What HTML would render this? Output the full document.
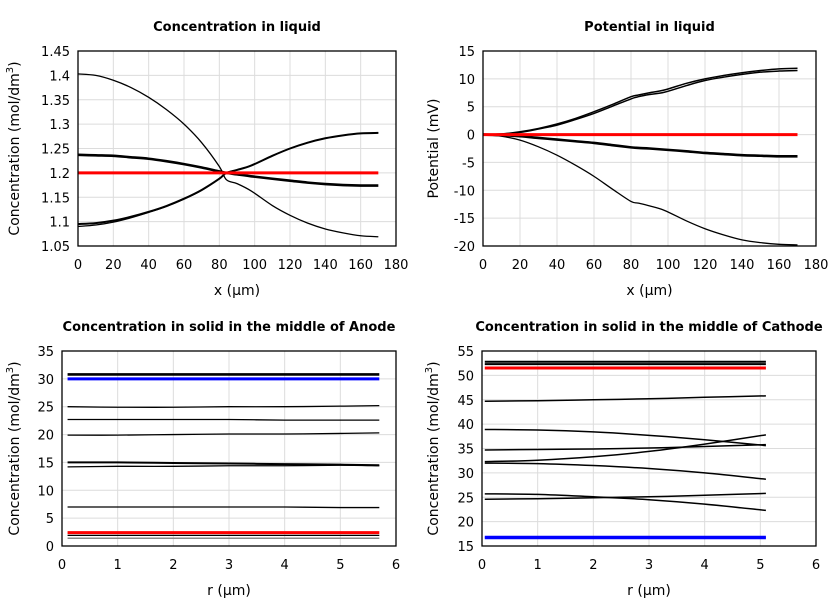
<!DOCTYPE html>
<html><head><meta charset="utf-8"><style>
body{margin:0;background:#fff;}
svg{display:block;font-family:"DejaVu Sans","Liberation Sans",sans-serif;}
</style></head><body>
<svg id="c" width="840" height="600"></svg>
<script>
// ---- data ----
const xLiquid=[0,10,20,30,40,50,60,70,80,84,90,98,110,120,130,140,150,160,170];
const concA=[1.403,1.400,1.390,1.375,1.355,1.330,1.300,1.262,1.213,1.186,1.178,1.163,1.133,1.113,1.097,1.085,1.077,1.071,1.069];
const concB=[1.237,1.236,1.235,1.232,1.229,1.224,1.218,1.211,1.203,1.200,1.197,1.193,1.188,1.184,1.180,1.177,1.175,1.174,1.174];
const concC=[1.095,1.097,1.102,1.110,1.120,1.132,1.147,1.165,1.188,1.200,1.206,1.215,1.235,1.250,1.262,1.271,1.277,1.281,1.282];
const concD=[1.090,1.093,1.099,1.108,1.119,1.131,1.146,1.164,1.188,1.200,1.206,1.215,1.235,1.250,1.262,1.271,1.277,1.281,1.282];
const concInit=1.2;
const potA=[0,0.1,0.5,1.1,1.9,2.9,4.1,5.4,6.8,7.1,7.5,8.0,9.2,10.0,10.6,11.1,11.5,11.8,11.9];
const potB=[0,0.1,0.4,1.0,1.7,2.7,3.8,5.1,6.4,6.8,7.2,7.6,8.8,9.7,10.3,10.8,11.2,11.4,11.5];
const potC=[0,-0.1,-0.3,-0.6,-0.9,-1.2,-1.5,-1.9,-2.3,-2.4,-2.5,-2.7,-3.0,-3.3,-3.5,-3.7,-3.8,-3.9,-3.9];
const potD=[0,-0.3,-1.0,-2.2,-3.7,-5.5,-7.5,-9.8,-12.0,-12.3,-12.8,-13.6,-15.5,-16.9,-18.0,-18.9,-19.4,-19.7,-19.8];
const potInit=0;
const rAnode=[0.1,1,2,3,4,5,5.7];
const anodeSeries=[
 [30.8,30.8,30.8,30.8,30.8,30.8,30.8],
 [25.0,24.9,24.9,25.0,25.0,25.1,25.2],
 [22.7,22.7,22.7,22.7,22.6,22.6,22.6],
 [19.9,19.9,20.0,20.1,20.1,20.2,20.3],
 [15.0,15.0,14.9,14.8,14.7,14.6,14.5],
 [14.2,14.3,14.3,14.4,14.4,14.5,14.4],
 [7.0,7.0,7.0,7.0,7.0,6.9,6.9],
 [1.9,1.9,1.9,1.9,1.9,1.9,1.9]];
const anodeBlue=30.0, anodeRed=2.4, anodeGray=1.4;
const rCathode=[0.05,1,2,3,4,5.1];
const cathodeSeries=[
 [52.8,52.8,52.8,52.8,52.8,52.8],
 [52.3,52.3,52.3,52.3,52.3,52.3],
 [44.7,44.8,45.0,45.2,45.5,45.8],
 [38.9,38.8,38.4,37.7,36.8,35.6],
 [34.7,34.8,34.9,35.1,35.4,35.8],
 [32.3,32.6,33.3,34.4,35.9,37.8],
 [32.0,31.9,31.5,30.9,30.0,28.7],
 [25.7,25.6,25.1,24.5,23.6,22.3],
 [24.6,24.7,24.9,25.1,25.4,25.8]];
const cathodeRed=51.5, cathodeBlue1=16.9, cathodeBlue2=16.6;

const xTicksL=[0,20,40,60,80,100,120,140,160,180];
const yTicks1=[1.05,1.1,1.15,1.2,1.25,1.3,1.35,1.4,1.45];
const yTicks2=[-20,-15,-10,-5,0,5,10,15];
const rTicks=[0,1,2,3,4,5,6];
const yTicks3=[0,5,10,15,20,25,30,35];
const yTicks4=[15,20,25,30,35,40,45,50,55];

const NS="http://www.w3.org/2000/svg";
const svg=document.getElementById('c');
function el(tag,attrs,parent){const e=document.createElementNS(NS,tag);for(const k in attrs)e.setAttribute(k,attrs[k]);(parent||svg).appendChild(e);return e;}

function panel(name,box,xmin,xmax,ymin,ymax,xt,yt,title,xlabel,fmt){
  const g=el('g',{});
  
  
  const sx=v=>box.l+(v-xmin)/(xmax-xmin)*(box.r-box.l);
  const sy=v=>box.b-(v-ymin)/(ymax-ymin)*(box.b-box.t);
  xt.forEach(v=>{
    const l=el('line',{x1:sx(v),x2:sx(v),y1:box.t,y2:box.b,stroke:'#dcdcdc','stroke-width':1},g);
    
    const t=el('text',{x:sx(v),y:box.b+23,'text-anchor':'middle','font-size':13},g);t.textContent=v;
    
  });
  yt.forEach(v=>{
    const l=el('line',{x1:box.l,x2:box.r,y1:sy(v),y2:sy(v),stroke:'#dcdcdc','stroke-width':1},g);
    
    const t=el('text',{x:box.l-8,y:sy(v)+5,'text-anchor':'end','font-size':13},g);t.textContent=fmt?fmt(v):v;
    
  });
  const tt=el('text',{x:(box.l+box.r)/2,y:box.t-20,'text-anchor':'middle','font-size':13,'font-weight':'bold'},g);tt.textContent=title;
  
  const xl=el('text',{x:(box.l+box.r)/2,y:box.b+49,'text-anchor':'middle','font-size':14},g);xl.textContent=xlabel;
  
  return {g,sx,sy,box};
}
function frame(p){const r=el('rect',{x:p.box.l,y:p.box.t,width:p.box.r-p.box.l,height:p.box.b-p.box.t,fill:'none',stroke:'#000','stroke-width':1.3},p.g);
  }
function yTitle(p,x,text,sup){
  const cy=(p.box.t+p.box.b)/2;
  const t=el('text',{x:x,y:cy,'text-anchor':'middle','font-size':14,transform:`rotate(-90 ${x} ${cy})`},p.g);
  
  t.appendChild(document.createTextNode(text));
  if(sup){const s=document.createElementNS(NS,'tspan');s.setAttribute('font-size',10);s.setAttribute('dy',-6);s.textContent='3';t.appendChild(s);
    const s2=document.createElementNS(NS,'tspan');s2.setAttribute('dy',6);s2.textContent=')';t.appendChild(s2);}
}
function line(p,xs,ys,color,w,name){
  const P=xs.map((x,i)=>[p.sx(x),p.sy(ys[i])]);
  let d='M'+P[0][0].toFixed(2)+','+P[0][1].toFixed(2);
  for(let i=0;i<P.length-1;i++){
    const p0=P[Math.max(0,i-1)],p1=P[i],p2=P[i+1],p3=P[Math.min(P.length-1,i+2)];
    const c1=[p1[0]+(p2[0]-p0[0])/6,p1[1]+(p2[1]-p0[1])/6];
    const c2=[p2[0]-(p3[0]-p1[0])/6,p2[1]-(p3[1]-p1[1])/6];
    d+='C'+c1[0].toFixed(2)+','+c1[1].toFixed(2)+' '+c2[0].toFixed(2)+','+c2[1].toFixed(2)+' '+p2[0].toFixed(2)+','+p2[1].toFixed(2);
  }
  const e=el('path',{d:d,fill:'none',stroke:color,'stroke-width':w},p.g);
  
  
}
function hline(p,x0,x1,y,color,w,name){line(p,[x0,x1],[y,y],color,w,name);}

// Panel 1
const p1=panel('liquid-concentration-panel',{l:78,r:396,t:51,b:246},0,180,1.05,1.45,xTicksL,yTicks1,'Concentration in liquid','x (µm)',v=>String(+v.toFixed(2)));
yTitle(p1,19,'Concentration (mol/dm',true);
line(p1,xLiquid,concA,'#000',1.3,'conc-series-a');
line(p1,xLiquid,concB,'#000',2.6,'conc-series-b');
line(p1,xLiquid,concD,'#000',1.3,'conc-series-d');
line(p1,xLiquid,concC,'#000',2,'conc-series-c');
hline(p1,xLiquid[0],xLiquid[xLiquid.length-1],concInit,'#f00',3,'conc-initial-red');
frame(p1);

// Panel 2
const p2=panel('liquid-potential-panel',{l:483,r:816,t:51,b:246},0,180,-20,15,xTicksL,yTicks2,'Potential in liquid','x (µm)');
yTitle(p2,438,'Potential (mV)',false);
line(p2,xLiquid,potA,'#000',1.5,'pot-series-a');
line(p2,xLiquid,potB,'#000',1.5,'pot-series-b');
line(p2,xLiquid,potC,'#000',2.6,'pot-series-c');
line(p2,xLiquid,potD,'#000',1.3,'pot-series-d');
hline(p2,xLiquid[0],xLiquid[xLiquid.length-1],potInit,'#f00',3,'pot-initial-red');
frame(p2);

// Panel 3
const p3=panel('anode-solid-panel',{l:62,r:396,t:351,b:546},0,6,0,35,rTicks,yTicks3,'Concentration in solid in the middle of Anode','r (µm)');
yTitle(p3,19,'Concentration (mol/dm',true);
const r0=rAnode[0], r1=rAnode[rAnode.length-1];
anodeSeries.forEach((s,i)=>line(p3,rAnode,s,'#000',i===0?2.6:(i===4?2:1.3),'anode-series'));
hline(p3,r0,r1,anodeBlue,'#00f',3,'anode-blue-line');
hline(p3,r0,r1,anodeRed,'#f00',3,'anode-red-line');
hline(p3,r0,r1,anodeGray,'#888',1.5,'anode-gray-line');
frame(p3);

// Panel 4
const p4=panel('cathode-solid-panel',{l:482,r:816,t:351,b:546},0,6,15,55,rTicks,yTicks4,'Concentration in solid in the middle of Cathode','r (µm)');
yTitle(p4,438,'Concentration (mol/dm',true);
const c0=rCathode[0], c1=rCathode[rCathode.length-1];
cathodeSeries.forEach((s,i)=>line(p4,rCathode,s,'#000',i<2?2:1.5,'cathode-series'));
hline(p4,c0,c1,cathodeRed,'#f00',3,'cathode-red-line');
hline(p4,c0,c1,cathodeBlue1,'#00f',2,'cathode-blue-line');
hline(p4,c0,c1,cathodeBlue2,'#00f',2,'cathode-blue-line');
frame(p4);
</script>
</body></html>
